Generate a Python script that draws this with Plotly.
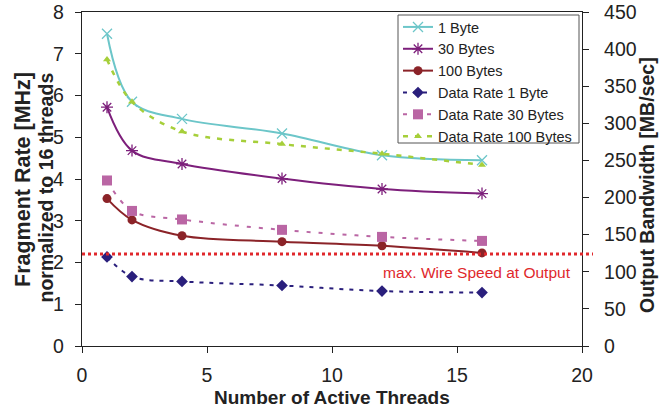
import plotly.graph_objects as go

threads = [1, 2, 4, 8, 12, 16]
rate_1 = [7.48, 5.85, 5.44, 5.09, 4.57, 4.45]
rate_30 = [5.72, 4.68, 4.36, 4.01, 3.76, 3.65]
rate_100 = [3.53, 3.02, 2.64, 2.50, 2.40, 2.23]
bw_1 = [120, 93.5, 87, 81.5, 74, 72]
bw_30 = [223, 182, 170.5, 156.5, 147, 141.6]
bw_100 = [386, 329, 289, 272, 259, 244]
wire_speed = 124

FONT = "Liberation Sans, Arial, sans-serif"
TXT = "#222222"

W, H = 672, 407
L, T = 82, 12
PW, PH = 500, 334
R = W - L - PW
B = H - T - PH


def px(rx):
    return (rx - L) / PW


def py(ry):
    return (H - B - ry) / PH


fig = go.Figure()
fig.add_trace(go.Scatter(x=threads, y=rate_1, name="1 Byte", mode="lines+markers",
                         line=dict(color="#6cc6c9", width=2, shape="spline"),
                         marker=dict(symbol="x-thin-open", size=10, color="#6cc6c9",
                                     line=dict(width=1.3, color="#6cc6c9"))))
fig.add_trace(go.Scatter(x=threads, y=rate_30, name="30 Bytes", mode="lines+markers",
                         line=dict(color="#7d1f7b", width=2, shape="spline"),
                         marker=dict(symbol="asterisk-open", size=10, color="#7d1f7b",
                                     line=dict(width=1.3, color="#7d1f7b"))))
fig.add_trace(go.Scatter(x=threads, y=rate_100, name="100 Bytes", mode="lines+markers",
                         line=dict(color="#8b2328", width=2, shape="spline"),
                         marker=dict(symbol="circle", size=9, color="#8b2328")))
fig.add_trace(go.Scatter(x=threads, y=bw_1, name="Data Rate 1 Byte", mode="lines+markers",
                         yaxis="y2",
                         line=dict(color="#2a1f7c", width=2, dash="4px,6px", shape="spline"),
                         marker=dict(symbol="diamond", size=9, color="#2a1f7c")))
fig.add_trace(go.Scatter(x=threads, y=bw_30, name="Data Rate 30 Bytes", mode="lines+markers",
                         yaxis="y2",
                         line=dict(color="#ba66a4", width=2, dash="4px,8px", shape="spline"),
                         marker=dict(symbol="square", size=10, color="#ba66a4")))
fig.add_trace(go.Scatter(x=threads, y=bw_100, name="Data Rate 100 Bytes", mode="lines+markers",
                         yaxis="y2",
                         line=dict(color="#a6cf3a", width=2.5, dash="5px,7px", shape="spline"),
                         marker=dict(symbol="triangle-up", size=7, color="#a6cf3a")))

# wire speed line (spans slightly beyond right axis)
fig.add_shape(type="line", xref="paper", yref="y2", x0=0, x1=px(593),
              y0=wire_speed, y1=wire_speed,
              line=dict(color="#e0282c", width=3, dash="dot"))
fig.add_annotation(x=px(573), xref="paper", y=wire_speed, yref="y2", yshift=-8,
                   text="max. Wire Speed at Output", showarrow=False,
                   xanchor="right", yanchor="top",
                   font=dict(family=FONT, size=15.5, color="#e0282c"))

# legend frame
fig.add_shape(type="rect", xref="paper", yref="paper",
              x0=px(398), x1=px(579), y0=py(143), y1=py(15),
              fillcolor="white", line=dict(color="#555", width=1), layer="above")

# axis titles
fig.add_annotation(x=px(332), xref="paper", y=py(397), yref="paper",
                   xanchor="center", yanchor="middle",
                   text="<b>Number of Active Threads</b>", showarrow=False,
                   font=dict(family=FONT, size=19, color=TXT))
fig.add_annotation(x=px(22.5), xref="paper", y=py(179.5), yref="paper", textangle=-90,
                   xanchor="center", yanchor="middle",
                   text="<b>Fragment Rate [MHz]</b>", showarrow=False,
                   font=dict(family=FONT, size=21.5, color=TXT))
fig.add_annotation(x=px(46), xref="paper", y=py(187.5), yref="paper", textangle=-90,
                   xanchor="center", yanchor="middle",
                   text="<b>normalized to 16 threads</b>", showarrow=False,
                   font=dict(family=FONT, size=19.5, color=TXT))
fig.add_annotation(x=px(647), xref="paper", y=py(185), yref="paper", textangle=-90,
                   xanchor="center", yanchor="middle",
                   text="<b>Output Bandwidth [MB/sec]</b>", showarrow=False,
                   font=dict(family=FONT, size=19.5, color=TXT))

axis_common = dict(showgrid=False, zeroline=False, showline=True, linecolor="#222",
                   linewidth=1.3, ticks="outside", ticklen=6, tickcolor="#222",
                   automargin=False, ticklabeloverflow="allow",
                   tickfont=dict(family=FONT, size=19.5, color=TXT))

fig.update_layout(
    width=W, height=H,
    paper_bgcolor="white", plot_bgcolor="white",
    margin=dict(l=L, r=R, t=T, b=B, autoexpand=False),
    font=dict(family=FONT, color=TXT),
    showlegend=True,
    legend=dict(x=px(398), y=py(11), xanchor="left", yanchor="top",
                borderwidth=0, bgcolor="rgba(0,0,0,0)",
                font=dict(family=FONT, size=14.5, color=TXT),
                tracegroupgap=0, itemwidth=30),
    xaxis=dict(range=[0, 20], tickvals=[0, 5, 10, 15, 20], mirror=True,
               ticklabelstandoff=5, **axis_common),
    yaxis=dict(range=[0, 8], dtick=1, ticklabelstandoff=7, **axis_common),
    yaxis2=dict(range=[0, 450], dtick=50, overlaying="y", side="right",
                ticklabelstandoff=11, **axis_common),
)

fig.write_html("out.html", config={"displayModeBar": False},
               post_script="document.body.style.margin='0';document.body.style.overflow='hidden';")
